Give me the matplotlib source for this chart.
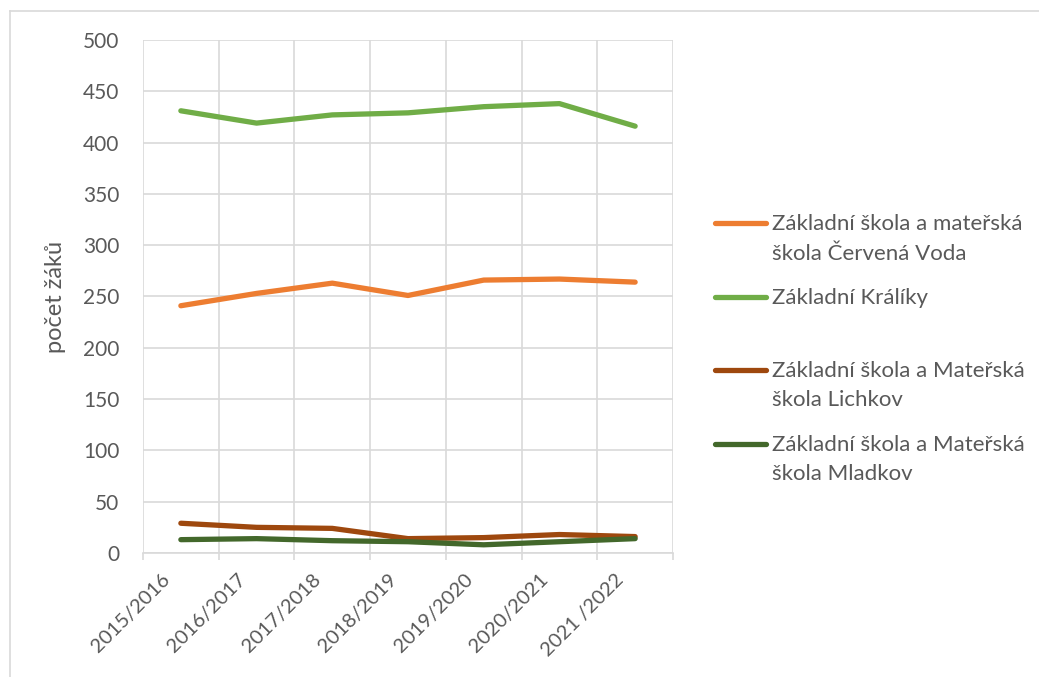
import numpy as np
import matplotlib.pyplot as plt
from matplotlib.lines import Line2D
import matplotlib.transforms as mtransforms

plt.rcParams['font.family'] = ['Lato', 'DejaVu Sans']

roky = ["2015/2016", "2016/2017", "2017/2018", "2018/2019", "2019/2020", "2020/2021", "2021 /2022"]
cervena_voda = [241, 253, 263, 251, 266, 267, 264]
kraliky = [431, 419, 427, 429, 435, 438, 416]
lichkov = [29, 25, 24, 14, 15, 18, 16]
mladkov = [13, 14, 12, 11, 8, 11, 14]

nazvy = ["Základní škola a mateřská\nškola Červená Voda",
         "Základní Králíky",
         "Základní škola a Mateřská\nškola Lichkov",
         "Základní škola a Mateřská\nškola Mladkov"]
barvy = ["#ED7D31", "#70AD47", "#9E480E", "#43682B"]
serie = [cervena_voda, kraliky, lichkov, mladkov]

seda = "#d9d9d9"
text_c = "#595959"

fig = plt.figure(figsize=(10.39, 6.77), dpi=100)
ax = fig.add_axes([143/1039, 1-553/677, 530/1039, 513/677])

x = np.arange(len(roky))
for s, c in zip(serie, barvy):
    ax.plot(x, s, color=c, lw=3.8, solid_capstyle='round', solid_joinstyle='round')

ax.set_xlim(-0.5, len(roky)-0.5)
ax.set_ylim(0, 500)
ax.set_yticks(np.arange(0, 501, 50))
ax.set_xticks(x)
ax.set_xticks(np.arange(-0.5, len(roky), 1), minor=True)
ax.grid(True, axis='y', color=seda, lw=1.2)
ax.grid(True, axis='x', which='minor', color=seda, lw=1.2)
ax.set_axisbelow(True)
for k in ['top', 'right', 'left']:
    ax.spines[k].set_visible(False)
ax.spines['bottom'].set_color(seda)
ax.spines['bottom'].set_linewidth(1.2)
ax.tick_params(axis='y', length=0, pad=17, labelsize=15, labelcolor=text_c)
ax.tick_params(axis='x', which='major', length=0, pad=13, labelsize=14.5, labelcolor=text_c)
ax.tick_params(axis='x', which='minor', length=5, width=1.2, color=seda)
ax.set_xticklabels(roky, rotation=45, ha='right', va='top')
posun = mtransforms.ScaledTranslation(-8/100, 0, fig.dpi_scale_trans)
for t in ax.get_xticklabels():
    t.set_transform(t.get_transform() + posun)
ax.set_ylabel("počet žáků", fontsize=17, color=text_c, labelpad=12)

# legenda - cara u prvniho radku textu
leg_y = [223, 297, 370, 444]
for nazev, c, yy in zip(nazvy, barvy, leg_y):
    yf = 1 - yy/677
    fig.add_artist(Line2D([715/1039, 766/1039], [yf, yf], color=c, lw=3.8,
                          solid_capstyle='round', transform=fig.transFigure))
    for i, radek in enumerate(nazev.split("\n")):
        fig.text(772/1039, 1 - (yy + 1 + i*29.5)/677, radek, fontsize=16, color=text_c,
                 va='center', transform=fig.transFigure)

# ramecek
fig.add_artist(Line2D([10/1039, 1], [1-11/677, 1-11/677], color=seda, lw=1.2, transform=fig.transFigure))
fig.add_artist(Line2D([10/1039, 10/1039], [0, 1-11/677], color=seda, lw=1.2, transform=fig.transFigure))

fig.savefig("out.png", dpi=100)
